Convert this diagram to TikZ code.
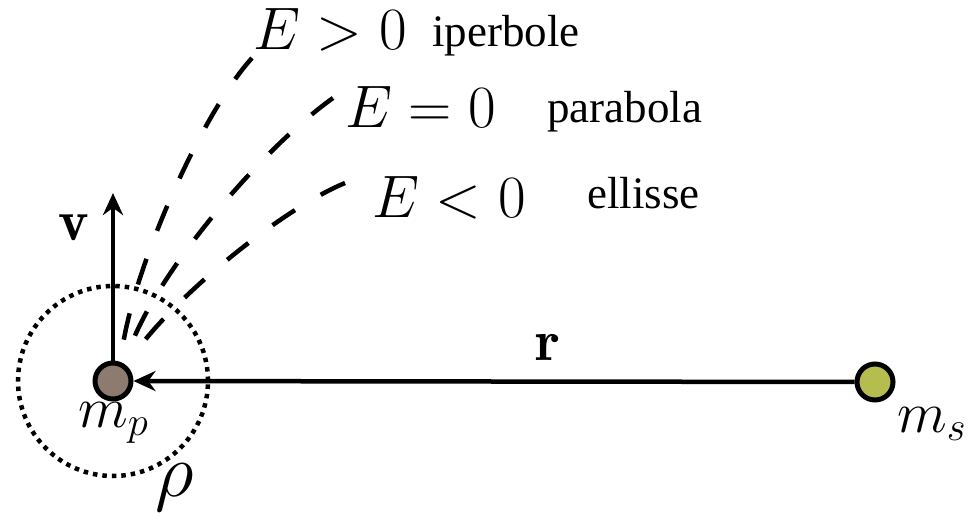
\RequirePackage{fix-cm}
\documentclass[tikz,border=0pt]{standalone}
\usepackage{fontspec}
\newfontfamily\tnr{Liberation Serif}
\usetikzlibrary{arrows.meta}
\definecolor{mpcol}{HTML}{8C7B6E}
\definecolor{mscol}{HTML}{B5BD4F}
\begin{document}
\begin{tikzpicture}[x=1pt,y=-1pt,
  ball/.style={circle,draw,line width=5pt,minimum size=36pt,inner sep=0pt},
  traj/.style={line width=4.5pt,dash pattern=on 27pt off 30pt},
  vec/.style={line width=4.5pt,-{Stealth[length=22pt,width=20pt]}},
  dotring/.style={circle,draw,line width=4.5pt,dash pattern=on 4.5pt off 5pt,minimum size=190pt,inner sep=0pt},
  mlab/.style={font=\fontsize{58}{60}\selectfont,inner sep=0pt},
  elab/.style={font=\fontsize{60}{62}\selectfont,inner sep=0pt},
  tlab/.style={font=\tnr\fontsize{45}{48}\selectfont,inner sep=0pt}]
\useasboundingbox (0,0) rectangle (979,516);
\node[dotring] (ring) at (113,381) {};
\node[ball,fill=mpcol] (mp) at (113,381) {};
\node[ball,fill=mscol] (ms) at (875,382) {};
\draw[vec] (ms) -- (mp);
\coordinate (vtip) at (113,193);
\draw[vec] (mp) -- (vtip);
\coordinate (h0) at (252,58);
\coordinate (p0) at (333,98);
\coordinate (e0) at (345,183);
\coordinate (h1) at (121,360);
\coordinate (p1) at (127,357);
\coordinate (e1) at (130,360);
\draw[traj] (h0) .. controls (200,115) and (128,280) .. (h1);
\draw[traj] (p0) .. controls (260,150) and (150,280) .. (p1);
\draw[traj] (e0) .. controls (280,210) and (170,300) .. (e1);
\node[elab,anchor=base west] (eh) at (253,50) {$E>0$};
\node[tlab,anchor=base west] (th) at (432,47) {iperbole};
\node[elab,anchor=base west] (ep) at (345,128) {$E=0$};
\node[tlab,anchor=base west] (tp) at (547,123) {parabola};
\node[elab,anchor=base west] (ee) at (372,217) {$E<0$};
\node[tlab,anchor=base west] (te) at (587,208) {ellisse};
\node[mlab,anchor=base west] (mpl) at (78,427) {$m_p$};
\node[mlab,anchor=base west] (msl) at (897,432) {$m_s$};
\node[mlab,anchor=base west,font=\fontsize{76}{78}\selectfont] (rhol) at (155,496) {$\rho$};
\node[mlab,anchor=base west] (vl) at (58,240) {$\mathbf{v}$};
\node[mlab,anchor=base west] (rl) at (535,360) {$\mathbf{r}$};
\end{tikzpicture}
\end{document}
